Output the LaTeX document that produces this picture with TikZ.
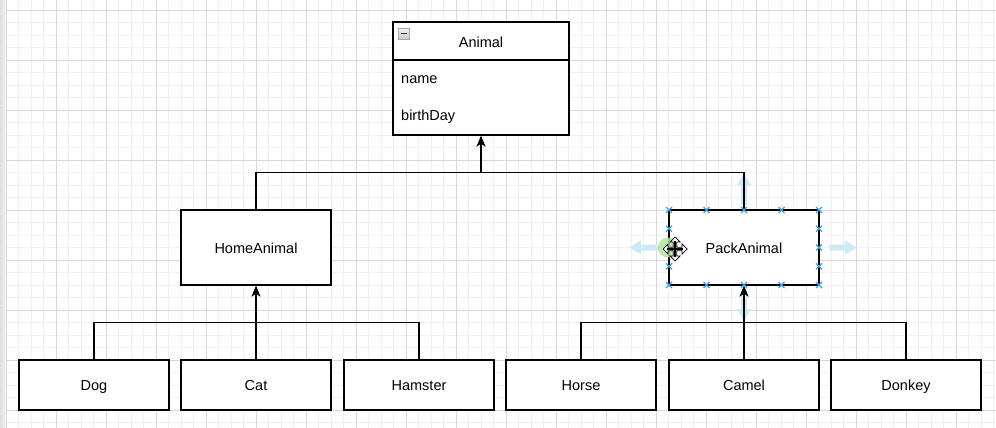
\documentclass[tikz,border=0pt]{standalone}
\usepackage{fontspec}
\setmainfont{Liberation Sans}
\usetikzlibrary{arrows.meta,calc}
\definecolor{gridminor}{RGB}{240,240,240}
\definecolor{gridmajor}{RGB}{216,216,216}
\definecolor{selblue}{RGB}{60,165,225}
\definecolor{hintblue}{RGB}{208,233,247}
\definecolor{hovergreen}{RGB}{178,228,160}
\begin{document}
\begin{tikzpicture}[x=1pt,y=-1pt,
  box/.style={draw=black,line width=1.3pt,fill=white,minimum width=150pt,minimum height=50pt,inner sep=0pt,text height=13.5pt,text depth=2pt,font=\fontsize{14.5}{17}\selectfont},
  tallbox/.style={box,minimum height=75pt},
  label/.style={inner sep=0pt,text height=13.5pt,text depth=2pt,font=\fontsize{14.5}{17}\selectfont},
  field/.style={inner sep=0pt,anchor=base west,font=\fontsize{14.5}{17}\selectfont},
  conn/.style={draw=black,line width=1.3pt},
  inh/.style={conn,-{Stealth[length=11pt,width=9pt,inset=3pt]}},
  selx/.style={draw=selblue,line width=1.2pt},
  hint/.style={fill=hintblue,draw=none}
]
\useasboundingbox (0,0) rectangle (996,428);
\fill[white] (0,0) rectangle (996,428);
% grid
\foreach \k in {0,...,79} {\draw[gridminor,line width=0.9pt] ({6+12.5*\k},0) -- ({6+12.5*\k},428);}
\foreach \k in {0,...,33} {\draw[gridminor,line width=0.9pt] (0,{10+12.5*\k}) -- (996,{10+12.5*\k});}
\foreach \k in {0,...,19} {\draw[gridmajor,line width=0.9pt] ({6+50*\k},0) -- ({6+50*\k},428);}
\foreach \k in {0,...,8} {\draw[gridmajor,line width=0.9pt] (0,{10+50*\k}) -- (996,{10+50*\k});}
\shade[left color=gray!25,right color=gray!8] (0,0) rectangle (6,428);

% hint arrows around PackAnimal
\fill[hint] (744,173) -- (751,185) -- (747,185) -- (747,205) -- (741,205) -- (741,185) -- (737,185) -- cycle;
\fill[hint] (744,321) -- (751,309) -- (747,309) -- (747,290) -- (741,290) -- (741,309) -- (737,309) -- cycle;
\fill[hint] (629,247.5) -- (641,240.5) -- (641,244.5) -- (660,244.5) -- (660,250.5) -- (641,250.5) -- (641,254.5) -- cycle;
\fill[hint] (857,247.5) -- (845,240.5) -- (845,244.5) -- (829,244.5) -- (829,250.5) -- (845,250.5) -- (845,254.5) -- cycle;

% nodes
\node[box,minimum width=176pt,minimum height=113pt] (animal) at (481,78.5) {};
\node[label] (animaltitle) at (481,41.5) {Animal};
\node[field] (fname) at (401,83.5) {name};
\node[field] (fbirth) at (401,120.5) {birthDay};
\draw[black,line width=1.3pt] (animal.west |- 0,60) -- (animal.east |- 0,60);
\shade[top color=gray!8,bottom color=gray!40,draw=gray!70,line width=0.6pt] (398,28) rectangle (409,39);
\draw[black!80,line width=1.6pt] (400.5,33.5) -- (406.5,33.5);

\node[tallbox] (home) at (256,247.5) {HomeAnimal};
\node[tallbox] (pack) at (744,247.5) {PackAnimal};
\node[box] (dog) at (94,385) {Dog};
\node[box] (cat) at (256,385) {Cat};
\node[box] (hamster) at (419,385) {Hamster};
\node[box] (horse) at (581,385) {Horse};
\node[box] (camel) at (744,385) {Camel};
\node[box] (donkey) at (906,385) {Donkey};

% connectors
\coordinate (j1) at (481,172.5);
\coordinate (j2) at (256,322.5);
\coordinate (j3) at (744,322.5);
\draw[inh] (home.north) |- (j1) -- (animal.south);
\draw[conn] (pack.north) |- (j1);
\draw[inh] (cat.north) -- (home.south);
\draw[conn] (dog.north) |- (j2);
\draw[conn] (hamster.north) |- (j2);
\draw[inh] (camel.north) -- (pack.south);
\draw[conn] (horse.north) |- (j3);
\draw[conn] (donkey.north) |- (j3);

% selection handles
\foreach \x in {669,706.5,744,781.5,819} {
  \foreach \y in {210,285} {
    \draw[selx] (\x-3,\y-3) -- (\x+3,\y+3) (\x-3,\y+3) -- (\x+3,\y-3);
  }
}
\foreach \x in {669,819} {
  \foreach \y in {228.75,247.5,266.25} {
    \draw[selx] (\x-3,\y-3) -- (\x+3,\y+3) (\x-3,\y+3) -- (\x+3,\y-3);
  }
}
% hover circle
\fill[hovergreen,opacity=0.85] (668,247.5) circle (10);
% move cursor
\begin{scope}[shift={(675,249)}]
\filldraw[fill=white,draw=black,line width=0.7pt]
 (0,-12) -- (5,-7) -- (1.8,-7) -- (1.8,-1.8) -- (7,-1.8) -- (7,-5) -- (12,0) -- (7,5) -- (7,1.8) -- (1.8,1.8) -- (1.8,7) -- (5,7) -- (0,12) -- (-5,7) -- (-1.8,7) -- (-1.8,1.8) -- (-7,1.8) -- (-7,5) -- (-12,0) -- (-7,-5) -- (-7,-1.8) -- (-1.8,-1.8) -- (-1.8,-7) -- (-5,-7) -- cycle;
\draw[black,line width=1.2pt] (0,-8) -- (0,8) (-8,0) -- (8,0);
\end{scope}
\end{tikzpicture}
\end{document}
